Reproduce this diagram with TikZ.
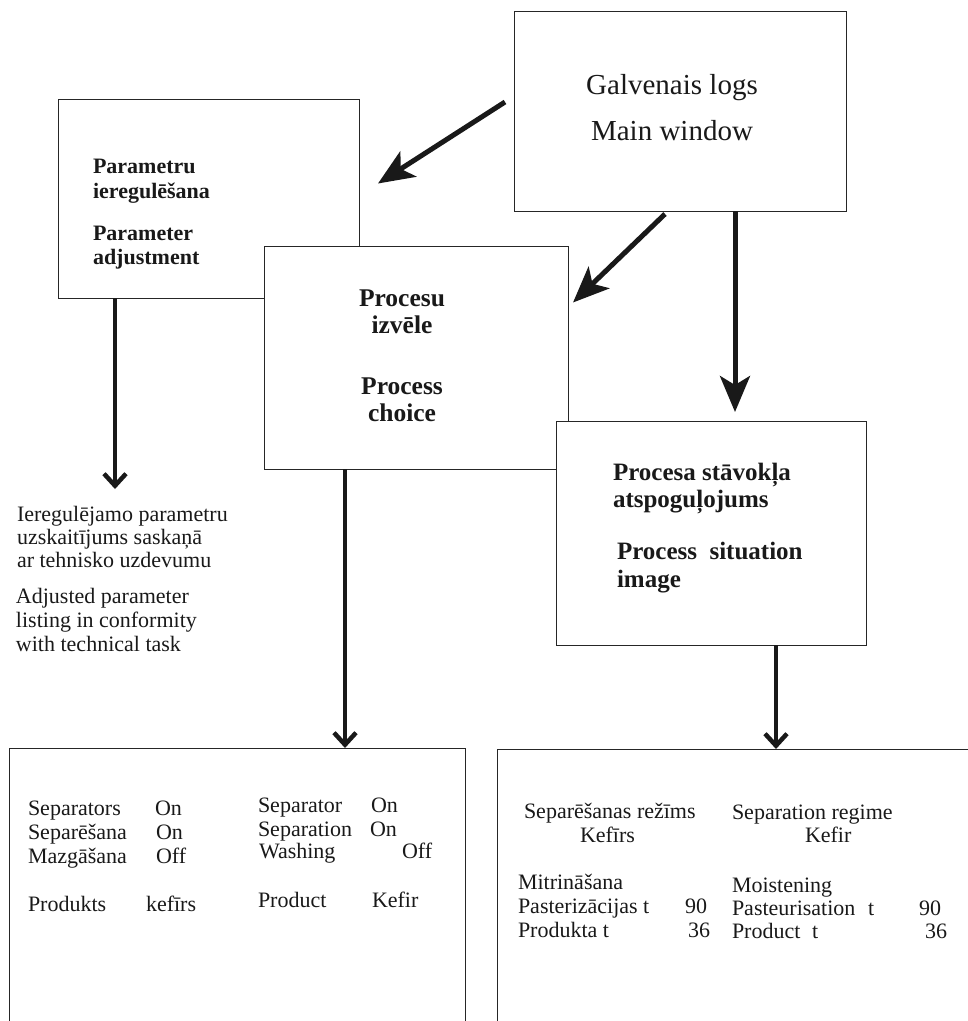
\documentclass[tikz,border=0pt]{standalone}
\usepackage{fontspec}
\setmainfont{Liberation Serif}
\usetikzlibrary{arrows.meta,calc}
\begin{document}
\begin{tikzpicture}[x=1pt,y=-1pt,
  box/.style={draw=black!85, line width=1pt, fill=white, inner sep=0pt, outer sep=0pt, anchor=north west},
  txt/.style={anchor=base west, inner sep=0pt, outer sep=0pt, text=black!90, font=\fontsize{22}{23}\selectfont},
  btxt/.style={txt, font=\fontsize{22}{23}\selectfont\bfseries},
  ptxt/.style={txt, anchor=base, font=\fontsize{25.5}{27}\selectfont\bfseries},
  stxt/.style={txt, font=\fontsize{25}{27}\selectfont\bfseries},
  mtxt/.style={txt, anchor=base, font=\fontsize{29}{30}\selectfont},
  bigarrow/.style={draw=black!90, line width=5pt, -{Stealth[length=36pt,width=30pt,inset=9pt]}},
  openarrow/.style={draw=black!90, line width=4.5pt, -{Straight Barb[length=12pt,width=22pt]}}
]
\useasboundingbox (0,0) rectangle (968,1021);
\clip (0,0) rectangle (968,1021);

% screen boxes, later ones drawn over earlier ones
\node[box, minimum width=301pt, minimum height=199pt] (param) at (58,99) {};
\node[box, minimum width=304pt, minimum height=223pt] (proc) at (264,246) {};
\node[box, minimum width=310pt, minimum height=224pt] (sit) at (556,421) {};
\node[box, minimum width=332pt, minimum height=200pt] (main) at (514,11) {};
\node[box, minimum width=456pt, minimum height=400pt] (outl) at (9,748) {};
\node[box, minimum width=520pt, minimum height=400pt] (outr) at (497,749) {};

% main window
\node[mtxt] (mainA) at (672,94) {Galvenais logs};
\node[mtxt] (mainB) at (672,140) {Main window};

% parameter adjustment
\node[btxt] (parA) at (93,173) {Parametru};
\node[btxt] (parB) at (93,198) {ieregulēšana};
\node[btxt] (parC) at (93,240) {Parameter};
\node[btxt] (parD) at (93,264) {adjustment};

% process choice
\node[ptxt] (procA) at (402,306) {Procesu};
\node[ptxt] (procB) at (402,333) {izvēle};
\node[ptxt] (procC) at (402,394) {Process};
\node[ptxt] (procD) at (402,421) {choice};

% process situation image
\node[stxt] (sitA) at (613,480) {Procesa stāvokļa};
\node[stxt] (sitB) at (613,507) {atspoguļojums};
\node[stxt] (sitC) at (617,559) {Process~~situation};
\node[stxt] (sitD) at (617,587) {image};

% adjusted parameter listing
\node[txt] (descA) at (17,521) {Ieregulējamo parametru};
\node[txt] (descB) at (17,544) {uzskaitījums saskaņā};
\node[txt] (descC) at (17,567) {ar tehnisko uzdevumu};
\node[txt] (descD) at (16,603) {Adjusted parameter};
\node[txt] (descE) at (16,627) {listing in conformity};
\node[txt] (descF) at (16,651) {with technical task};

% process choice screen
\node[txt] (lA1) at (28,815) {Separators};
\node[txt] (lA2) at (155,815) {On};
\node[txt] (lB1) at (28,839) {Separēšana};
\node[txt] (lB2) at (156,839) {On};
\node[txt] (lC1) at (28,863) {Mazgāšana};
\node[txt] (lC2) at (156,863) {Off};
\node[txt] (lD1) at (28,911) {Produkts};
\node[txt] (lD2) at (146,911) {kefīrs};
\node[txt] (rA1) at (258,812) {Separator};
\node[txt] (rA2) at (371,812) {On};
\node[txt] (rB1) at (258,836) {Separation};
\node[txt] (rB2) at (370,836) {On};
\node[txt] (rC1) at (259,858) {Washing};
\node[txt] (rC2) at (402,858) {Off};
\node[txt] (rD1) at (258,907) {Product};
\node[txt] (rD2) at (372,907) {Kefir};

% process situation screen
\node[txt] (sA) at (524,818) {Separēšanas režīms};
\node[txt] (sB) at (580,842) {Kefīrs};
\node[txt] (sC) at (518,889) {Mitrināšana};
\node[txt] (sD1) at (518,913) {Pasterizācijas t};
\node[txt] (sD2) at (685,913) {90};
\node[txt] (sE1) at (518,937) {Produkta t};
\node[txt] (sE2) at (688,937) {36};
\node[txt] (eA) at (732,819) {Separation regime};
\node[txt] (eB) at (805,842) {Kefir};
\node[txt] (eC) at (732,892) {Moistening};
\node[txt] (eD1) at (732,915) {Pasteurisation};
\node[txt] (eD2) at (868,915) {t};
\node[txt] (eD3) at (919,915) {90};
\node[txt] (eE1) at (732,938) {Product};
\node[txt] (eE2) at (812,938) {t};
\node[txt] (eE3) at (925,938) {36};

% connectors
\draw[bigarrow] ($(main.west)+(-9,-9)$) -- ($(param.east)+(19,-15)$);
\draw[bigarrow] ($(main.south)+(-15,3)$) -- ($(proc.east)+(5,-55)$);
\draw[bigarrow] ($(main.south)+(55,0)$) coordinate (m3) -- (m3 |- {$(sit.north)+(0,-9)$});
\coordinate (ptip) at (115,489);
\draw[openarrow] (param.south -| ptip) -- (ptip);
\draw[openarrow] ($(proc.south)+(-71,0)$) coordinate (p5) -- (p5 |- outl.north);
\draw[openarrow] ($(sit.south)+(65,0)$) coordinate (p6) -- (p6 |- outr.north);
\end{tikzpicture}
\end{document}
